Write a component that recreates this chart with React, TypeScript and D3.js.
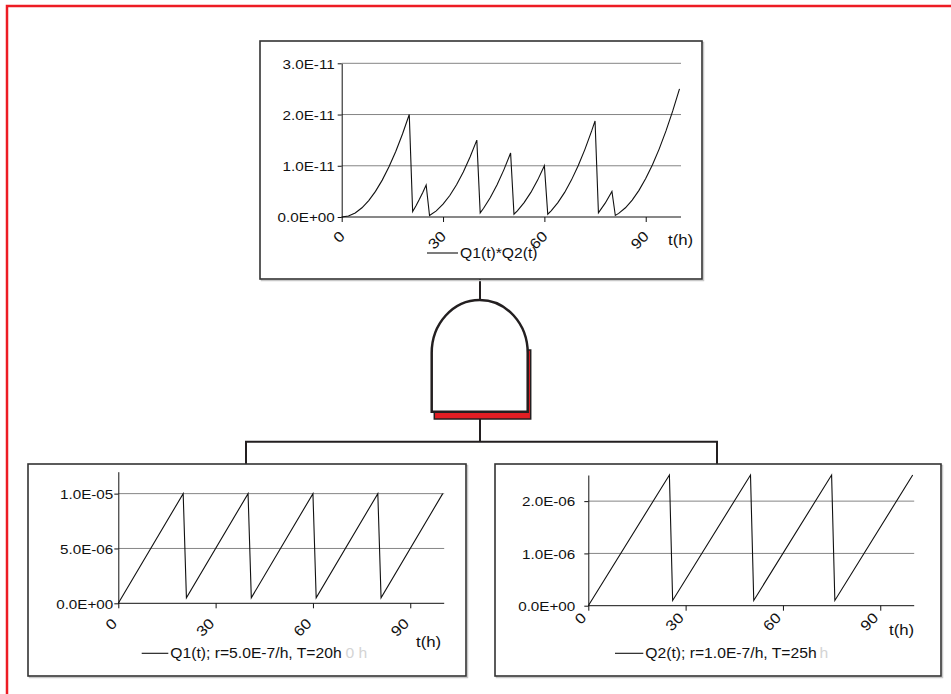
import React, { useEffect, useRef } from "react";
import * as d3 from "d3";

// time axis
const xTicks = [0, 30, 60, 90];

// Q1(t) in 1e-6 units
const q1Hours = [0, 20, 21, 40, 41, 60, 61, 80, 81, 100];
const q1Values = [0, 10, 0.5, 10, 0.5, 10, 0.5, 10, 0.5, 10];
const q1Ticks = [0, 5, 10];
const q1TickLabels = ["0.0E+00", "5.0E-06", "1.0E-05"];

// Q2(t) in 1e-6 units
const q2Hours = [0, 25, 26, 50, 51, 75, 76, 100];
const q2Values = [0, 2.5, 0.1, 2.5, 0.1, 2.5, 0.1, 2.5];
const q2Ticks = [0, 1, 2];
const q2TickLabels = ["0.0E+00", "1.0E-06", "2.0E-06"];

// Q1*Q2 in 1e-12 units
const prodHours = [0, 2, 4, 6, 8, 10, 12, 14, 16, 18, 20, 21, 22, 23, 24, 25, 26, 28, 30, 32, 34, 36, 38, 40,
  41, 42, 44, 46, 48, 50, 51, 52, 54, 56, 58, 60, 61, 62, 64, 66, 68, 70, 72, 74, 75, 76, 78, 80,
  81, 82, 84, 86, 88, 90, 92, 94, 96, 98, 100];
const prodValues = [0, 0.2, 0.8, 1.8, 3.2, 5, 7.2, 9.8, 12.8, 16.2, 20, 1.05, 2.2, 3.45, 4.8, 6.25, 0.3, 1.2, 2.5, 4.2, 6.3, 8.8, 11.7, 15,
  0.8, 1.7, 3.8, 6.3, 9.2, 12.5, 0.55, 1.2, 2.8, 4.8, 7.2, 10, 0.55, 1.2, 2.8, 4.8, 7.2, 10, 13.2, 16.8, 18.75, 0.8, 2.7, 5,
  0.3, 0.7, 1.8, 3.3, 5.2, 7.5, 10.2, 13.3, 16.8, 20.7, 25];
const prodTicks = [0, 10, 20, 30];
const prodTickLabels = ["0.0E+00", "1.0E-11", "2.0E-11", "3.0E-11"];

const FONT = "Arial, 'Liberation Sans', sans-serif";
const INK = "#111";

const charts = [
  {
    box: [260, 41, 442, 238], xr: [341.7, 679.5], yr: [217, 63.3], ymax: 30,
    hours: prodHours, values: prodValues, ticks: prodTicks, labels: prodTickLabels,
    legend: "Q1(t)*Q2(t)", ghost: null, legX: [427, 458], legY: 253,
    tLabel: [668, 240], yGap: 7, lab: [0, 16.5],
  },
  {
    box: [28, 464, 438, 212], xr: [118.3, 442.7], yr: [603.3, 471.7], ymax: 12,
    hours: q1Hours, values: q1Values, ticks: q1Ticks, labels: q1TickLabels,
    legend: "Q1(t); r=5.0E-7/h, T=20h", ghost: "0 h", ghostX: 345.5, legX: [141.7, 168.3], legY: 653.3,
    tLabel: [416, 641.7], yGap: 5, lab: [-4.4, 17.6],
  },
  {
    box: [495, 464, 446, 212], xr: [588.3, 912.7], yr: [605.7, 475], ymax: 2.5,
    hours: q2Hours, values: q2Values, ticks: q2Ticks, labels: q2TickLabels,
    legend: "Q2(t); r=1.0E-7/h, T=25h", ghost: "h", ghostX: 819.5, legX: [615, 643.3], legY: 653.3,
    tLabel: [889, 630], yGap: 13, lab: [-5, 9.5],
  },
];

function addText(g, x, y, str, size, sx, fill = INK) {
  g.append("text")
    .attr("transform", `translate(${x},${y}) scale(${sx},1)`)
    .attr("font-family", FONT)
    .attr("font-size", size)
    .attr("fill", fill)
    .attr("dominant-baseline", "central")
    .text(str);
}

function drawChart(svg, c) {
  const g = svg.append("g");
  const [bx, by, bw, bh] = c.box;
  g.append("rect").attr("x", bx + 1.5).attr("y", by + 1.5).attr("width", bw).attr("height", bh)
    .attr("fill", "none").attr("stroke", "#c8c8c8").attr("stroke-width", 1.5);
  g.append("rect").attr("x", bx).attr("y", by).attr("width", bw).attr("height", bh)
    .attr("fill", "#fff").attr("stroke", "#333").attr("stroke-width", 1.6);

  const x = d3.scaleLinear().domain([0, 100]).range(c.xr);
  const y = d3.scaleLinear().domain([0, c.ymax]).range(c.yr);

  // gridlines
  g.selectAll(".grid").data(c.ticks.filter(d => d > 0)).enter().append("line")
    .attr("x1", x(0)).attr("x2", x(100) + 1.5)
    .attr("y1", d => y(d)).attr("y2", d => y(d))
    .attr("stroke", "#858585").attr("stroke-width", 1);

  const yAxis = g.append("g")
    .attr("transform", `translate(${x(0)},0)`)
    .call(d3.axisLeft(y).tickValues(c.ticks).tickFormat((d, i) => c.labels[i]).tickSize(4).tickSizeOuter(0));
  yAxis.select(".domain").attr("stroke", "#111");
  yAxis.selectAll("line").attr("stroke", "#111");
  yAxis.selectAll("text")
    .attr("x", null).attr("dy", null)
    .attr("transform", `translate(${-c.yGap},0) scale(1.12,1)`)
    .attr("dominant-baseline", "central")
    .attr("font-family", FONT).attr("font-size", 13.6).attr("fill", INK);

  const xAxis = g.append("g")
    .attr("transform", `translate(0,${y(0)})`)
    .call(d3.axisBottom(x).tickValues(xTicks).tickSize(5).tickSizeOuter(0));
  xAxis.select(".domain").attr("d", `M${x(0)},0H${x(100) + 1.5}`).attr("stroke", "#111");
  xAxis.selectAll("line").attr("stroke", "#111");
  xAxis.selectAll("text")
    .attr("y", null).attr("dy", null)
    .attr("text-anchor", "end")
    .attr("dominant-baseline", "central")
    .attr("transform", `translate(${c.lab[0]},${c.lab[1]}) rotate(-45) scale(1.15,1)`)
    .attr("font-family", FONT).attr("font-size", 14.5).attr("fill", INK);

  const line = d3.line().x(d => x(d[0])).y(d => y(d[1]));
  g.append("path")
    .datum(c.hours.map((h, i) => [h, c.values[i]]))
    .attr("d", line)
    .attr("fill", "none").attr("stroke", "#111").attr("stroke-width", 1.1);

  addText(g, c.tLabel[0], c.tLabel[1], "t(h)", 15, 1.12);

  // legend
  g.append("line").attr("x1", c.legX[0]).attr("x2", c.legX[1]).attr("y1", c.legY).attr("y2", c.legY)
    .attr("stroke", "#111").attr("stroke-width", 1.1);
  addText(g, c.legX[1] + 2, c.legY, c.legend, 14, 1.12);
  if (c.ghost) addText(g, c.ghostX, c.legY, c.ghost, 14, 1.12, "#d4d4d4");
}

export default function App() {
  const ref = useRef(null);

  useEffect(() => {
    const svg = d3.select(ref.current);
    svg.selectAll("*").remove();

    svg.append("rect").attr("width", 951).attr("height", 694).attr("fill", "#fff");

    // red frame
    svg.append("path").attr("d", "M7,694V6H951").attr("fill", "none")
      .attr("stroke", "#ed1c24").attr("stroke-width", 2.5);

    // connectors
    const wire = "#231f20";
    svg.append("path").attr("d", "M480,279V300 M480,419V441.7 M246,464V441.7H717V464")
      .attr("fill", "none").attr("stroke", wire).attr("stroke-width", 2);

    // AND gate with red shadow
    svg.append("rect").attr("x", 434.3).attr("y", 350).attr("width", 96.4).attr("height", 69)
      .attr("fill", "#e31e24").attr("stroke", wire).attr("stroke-width", 1.5);
    svg.append("path").attr("d", "M431.7,411.7V353A48,53 0 0 1 527.7,353V411.7Z")
      .attr("fill", "#fff").attr("stroke", wire).attr("stroke-width", 2.5);

    charts.forEach(c => drawChart(svg, c));
  });

  return (
    <div id="chart">
      <svg ref={ref} width={951} height={694} style={{ position: "absolute", left: 0, top: 0 }} />
    </div>
  );
}
